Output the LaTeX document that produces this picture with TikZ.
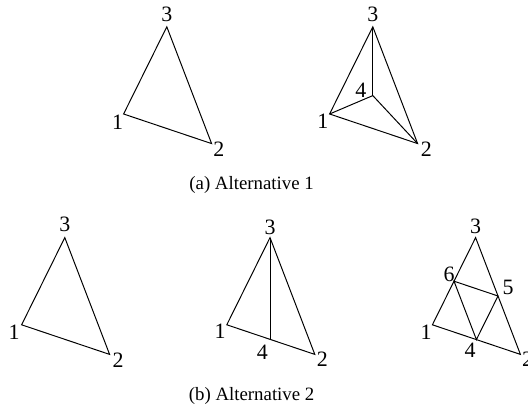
\documentclass[tikz,border=0pt]{standalone}
\usepackage{fontspec}
\setmainfont{Liberation Serif}
\usetikzlibrary{calc}

\begin{document}
\begin{tikzpicture}[
    mesh/.style={line width=0.7pt,line join=miter},
    vlab/.style={font=\fontsize{15.6}{18}\selectfont,inner sep=0pt},
    capt/.style={font=\fontsize{13.4}{16}\selectfont,anchor=base}]

  \useasboundingbox (0,0) rectangle (13.2,10.45);

  % (a) the coarse element, and its split about an inner point 4
  \begin{scope}[shift={(3.09,7.6)}]
    \coordinate (a1) at (0,0);
    \coordinate (a2) at (2.2,-0.74);
    \coordinate (a3) at (1.08,2.18);
    \draw[mesh] (a1) -- (a2) -- (a3) -- cycle;
    \node[vlab] (la1) at (-0.15,-0.2) {1};
    \node[vlab] (la2) at (2.38,-0.89) {2};
    \node[vlab] (la3) at (1.08,2.49) {3};
  \end{scope}

  \begin{scope}[shift={(8.24,7.6)}]
    \coordinate (b1) at (0,0);
    \coordinate (b2) at (2.2,-0.74);
    \coordinate (b3) at (1.08,2.18);
    \coordinate (b4) at (1.08,0.46);
    \draw[mesh] (b1) -- (b2) -- (b3) -- cycle;
    \draw[mesh] (b1) -- (b4) -- (b2);
    \draw[mesh] (b3) -- (b4);
    \node[vlab] (lb1) at (-0.17,-0.19) {1};
    \node[vlab] (lb2) at (2.42,-0.89) {2};
    \node[vlab] (lb3) at (1.08,2.49) {3};
    \node[vlab] (lb4) at (0.78,0.6) {4};
  \end{scope}

  \node[capt] (capa) at (6.29,5.7) {(a) Alternative 1};

  % (b) bisection of the longest edge, then the regular split
  \begin{scope}[shift={(0.54,2.33)}]
    \coordinate (c1) at (0,0);
    \coordinate (c2) at (2.2,-0.74);
    \coordinate (c3) at (1.08,2.18);
    \draw[mesh] (c1) -- (c2) -- (c3) -- cycle;
    \node[vlab] (lc1) at (-0.19,-0.19) {1};
    \node[vlab] (lc2) at (2.41,-0.89) {2};
    \node[vlab] (lc3) at (1.08,2.51) {3};
  \end{scope}

  \begin{scope}[shift={(5.67,2.33)}]
    \coordinate (d1) at (0,0);
    \coordinate (d2) at (2.2,-0.74);
    \coordinate (d3) at (1.08,2.18);
    \coordinate (d4) at (1.08,-0.363);
    \draw[mesh] (d1) -- (d2) -- (d3) -- cycle;
    \draw[mesh] (d3) -- (d4);
    \node[vlab] (ld1) at (-0.17,-0.17) {1};
    \node[vlab] (ld2) at (2.39,-0.85) {2};
    \node[vlab] (ld3) at (1.08,2.43) {3};
    \node[vlab] (ld4) at (0.89,-0.68) {4};
  \end{scope}

  \begin{scope}[shift={(10.81,2.33)}]
    \coordinate (e1) at (0,0);
    \coordinate (e2) at (2.2,-0.74);
    \coordinate (e3) at (1.08,2.18);
    \coordinate (e4) at ($(e1)!0.5!(e2)$);
    \coordinate (e5) at ($(e2)!0.5!(e3)$);
    \coordinate (e6) at ($(e1)!0.5!(e3)$);
    \draw[mesh] (e1) -- (e2) -- (e3) -- cycle;
    \draw[mesh] (e4) -- (e5) -- (e6) -- cycle;
    \node[vlab] (le1) at (-0.16,-0.19) {1};
    \node[vlab] (le2) at (2.38,-0.87) {2};
    \node[vlab] (le3) at (1.08,2.46) {3};
    \node[vlab] (le4) at (0.94,-0.63) {4};
    \node[vlab] (le5) at (1.89,0.945) {5};
    \node[vlab] (le6) at (0.42,1.27) {6};
  \end{scope}

  \node[capt] (capb) at (6.29,0.45) {(b) Alternative 2};
\end{tikzpicture}
\end{document}
